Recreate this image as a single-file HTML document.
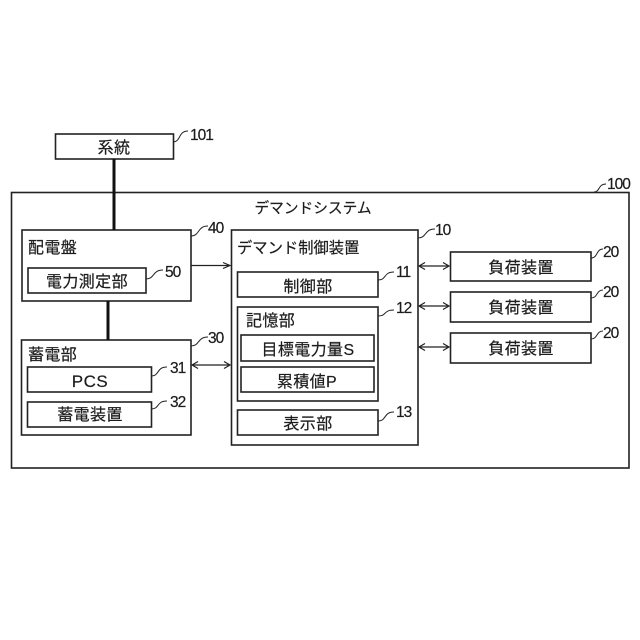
<!DOCTYPE html>
<html><head><meta charset="utf-8"><style>
html,body{margin:0;padding:0;background:#fff}
svg{display:block}
text{font-family:"Liberation Sans","Noto Sans CJK JP",sans-serif;fill:#1c1c1c;stroke:#1c1c1c;stroke-width:.2}
.j{font-size:16px;letter-spacing:.4px}
.k{font-size:14.7px}
.d{font-size:15.3px}
.n{font-size:15.5px;letter-spacing:-1px;font-family:"Liberation Sans",sans-serif}
rect{fill:none;stroke:#222;stroke-width:1.6}
.c{fill:none;stroke:#222;stroke-width:1}
.a{fill:none;stroke:#222;stroke-width:1.2}
</style></head><body>
<svg width="640" height="640" viewBox="0 0 640 640" xmlns="http://www.w3.org/2000/svg">
<rect x="11.5" y="192.5" width="617.5" height="275.5"/>
<rect x="55.5" y="134" width="118" height="25"/>
<rect x="22" y="230" width="169" height="71"/>
<rect x="28" y="268" width="118" height="25"/>
<rect x="21.5" y="340" width="169.5" height="95"/>
<rect x="27.5" y="367" width="124" height="25"/>
<rect x="27.5" y="402" width="124" height="25"/>
<rect x="231.5" y="230" width="186.5" height="215"/>
<rect x="237.5" y="272" width="140.5" height="25"/>
<rect x="237.5" y="307" width="140.5" height="94"/>
<rect x="241" y="335" width="133" height="26"/>
<rect x="241" y="367" width="133" height="25"/>
<rect x="237.5" y="410" width="140.5" height="25"/>
<rect x="450.5" y="252" width="140.5" height="29"/>
<rect x="450.5" y="292" width="140.5" height="30"/>
<rect x="450.5" y="333" width="140.5" height="30"/>
<path d="M114 159V230" stroke="#111" stroke-width="3" fill="none"/>
<path d="M108 301V340" stroke="#111" stroke-width="3" fill="none"/>
<path class="a" d="M191 265.5H229M223 262.5L230 265.5L223 268.5"/>
<path class="a" d="M192 365H230M198 361.5L192 365L198 368.5M224 361.5L230 365L224 368.5"/>
<path class="a" d="M419 266H449M425 262.5L419 266L425 269.5M443 262.5L449 266L443 269.5"/>
<path class="a" d="M419 306H449M425 302.5L419 306L425 309.5M443 302.5L449 306L443 309.5"/>
<path class="a" d="M419 347H449M425 343.5L419 347L425 350.5M443 343.5L449 347L443 350.5"/>
<path class="c" d="M173 142C181 142 178 131 188 131"/>
<path class="c" d="M191 236C200 236 197 226 208 226"/>
<path class="c" d="M146 279C155 279 152 270 163 270"/>
<path class="c" d="M191 346C200 346 197 337 208 337"/>
<path class="c" d="M151 376C160 376 156 367 167 367"/>
<path class="c" d="M151 409C160 409 156 401 167 401"/>
<path class="c" d="M418 238C427 238 424 229 435 229"/>
<path class="c" d="M378 280C387 280 383 272 394 272"/>
<path class="c" d="M378 316C387 316 383 310 394 310"/>
<path class="c" d="M378 421C387 421 383 412 394 412"/>
<path class="c" d="M591 258C598 258 596 249 603 249"/>
<path class="c" d="M591 298C598 298 596 290 603 290"/>
<path class="c" d="M591 339C598 339 596 331 603 331"/>
<path class="c" d="M594 192C600 192 598 184 606 184"/>
<text class="j" x="114" y="153" text-anchor="middle">系統</text>
<text class="k" x="313" y="213" text-anchor="middle">デマンドシステム</text>
<text class="j" x="28" y="253">配電盤</text>
<text class="j" x="87" y="287" text-anchor="middle">電力測定部</text>
<text class="j" x="28" y="360">蓄電部</text>
<text x="90" y="387" text-anchor="middle" style="font-size:17px;letter-spacing:.5px">PCS</text>
<text class="j" x="90" y="420" text-anchor="middle">蓄電装置</text>
<text class="d" x="237" y="253">デマンド制御装置</text>
<text class="j" x="308" y="292" text-anchor="middle">制御部</text>
<text class="j" x="246" y="326">記憶部</text>
<text class="j" x="308" y="355" text-anchor="middle">目標電力量S</text>
<text class="j" x="307" y="387" text-anchor="middle">累積値P</text>
<text class="j" x="308" y="429" text-anchor="middle">表示部</text>
<text class="j" x="521" y="273" text-anchor="middle">負荷装置</text>
<text class="j" x="521" y="313" text-anchor="middle">負荷装置</text>
<text class="j" x="521" y="354" text-anchor="middle">負荷装置</text>
<text class="n" x="190" y="140">101</text>
<text class="n" x="208" y="233">40</text>
<text class="n" x="165" y="277">50</text>
<text class="n" x="208" y="343">30</text>
<text class="n" x="170" y="373">31</text>
<text class="n" x="170" y="407">32</text>
<text class="n" x="435" y="235">10</text>
<text class="n" x="396" y="277">11</text>
<text class="n" x="396" y="313">12</text>
<text class="n" x="396" y="417">13</text>
<text class="n" x="607" y="189">100</text>
<text class="n" x="603" y="257">20</text>
<text class="n" x="603" y="297">20</text>
<text class="n" x="603" y="338">20</text>
</svg>
</body></html>
